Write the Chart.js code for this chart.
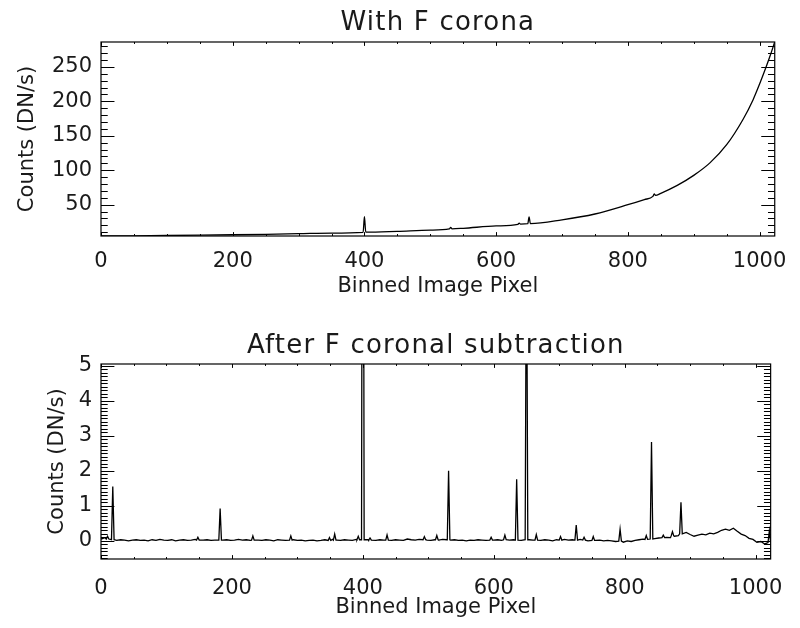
<!DOCTYPE html>
<html>
<head>
<meta charset="utf-8">
<script src="https://cdn.jsdelivr.net/npm/chart.js@4.4.0/dist/chart.umd.min.js"></script>
<style>
    html, body { margin: 0; padding: 0; background: #fff; }
    #wrap { position: relative; width: 800px; height: 628px; }
    canvas { position: absolute; left: 0; }
    #top-panel { top: 0; }
    #bottom-panel { top: 314px; }
</style>
</head>
<body>
<div id="wrap">
    <canvas id="top-panel" width="800" height="314"></canvas>
    <canvas id="bottom-panel" width="800" height="314"></canvas>
</div>
<script>
// tick labels
const xTickValues = [0, 200, 400, 600, 800, 1000];
const topYTickValues = [50, 100, 150, 200, 250];
const residYTickValues = [0, 1, 2, 3, 4, 5];

// top panel: spectrum with the F corona still in (binned pixel -> DN/s)
const topX = [0, 50, 100, 150, 200, 250, 300, 350, 398, 400,
    402, 450, 500, 529, 531, 533, 550, 600, 633, 635,
    637, 648, 650, 652, 700, 750, 800, 825, 838, 840,
    842, 850, 875, 900, 925, 950, 975, 990, 1000, 1010,
    1016, 1023];
const topY = [4.6, 4.9, 5.3, 5.8, 6.4, 7.1, 7.9, 8.8, 10.0, 32.5,
    10.1, 11.4, 13.2, 14.9, 16.9, 15.0, 15.8, 19.2, 21.6, 23.2,
    21.8, 22.4, 32.2, 22.6, 28.0, 36.5, 50.0, 57.5, 62.1, 65.6,
    63.5, 66.5, 78.0, 92.5, 111, 137, 174, 202, 225, 250,
    266, 286];

// bottom panel: residual continuum, one reading every 6 binned pixels
const residStep = 6;
const residBase = [
    0.05, 0.09, 0.04, 0.02, 0.01, 0.03, 0.02, 0.00, 0.02, 0.03,
    0.01, 0.02, 0.00, 0.03, 0.01, 0.04, 0.02, 0.01, 0.03, 0.00,
    0.02, 0.03, 0.01, 0.02, 0.04, 0.01, 0.02, 0.03, 0.01, 0.02,
    0.01, 0.02, 0.03, 0.01, 0.02, 0.04, 0.02, 0.03, 0.01, 0.03,
    0.02, 0.01, 0.03, 0.02, 0.00, 0.03, 0.02, 0.01, 0.02, 0.03,
    0.01, 0.02, 0.00, 0.01, 0.02, 0.00, 0.01, 0.03, 0.02, 0.04,
    0.02, 0.01, 0.03, 0.02, 0.01, 0.04, 0.03, 0.02, 0.03, 0.02,
    0.01, 0.03, 0.02, 0.04, 0.01, 0.03, 0.02, 0.01, 0.05, 0.03,
    0.02, 0.04, 0.03, 0.02, 0.01, 0.03, 0.02, 0.04, 0.03, 0.02,
    0.03, 0.01, 0.02, 0.00, 0.02, 0.01, 0.03, 0.02, 0.01, 0.03,
    0.02, 0.03, 0.01, 0.04, 0.02, 0.03, 0.02, 0.01, 0.04, 0.03,
    0.02, 0.04, 0.01, 0.03, 0.02, 0.00, 0.03, 0.01, 0.04, 0.02,
    0.03, 0.01, 0.04, 0.02, 0.00, 0.03, 0.01, 0.02, 0.00, 0.01,
    0.00, -0.02, 0.01, -0.04, 0.00, -0.02, 0.01, 0.03, 0.05, 0.04,
    0.05, 0.06, 0.08, 0.07, 0.10, 0.09, 0.13, 0.15, 0.21, 0.24,
    0.18, 0.13, 0.16, 0.19, 0.17, 0.22, 0.20, 0.24, 0.30, 0.33,
    0.30, 0.36, 0.27, 0.19, 0.15, 0.07, 0.04, -0.04, -0.02, -0.09,
    -0.05
];

// emission lines left after subtraction: position, peak, level at the foot
const lineX = [10, 18, 148, 182, 232, 290, 349, 357, 393, 400,
    411, 437, 494, 513, 531, 596, 617, 635, 650, 665,
    702, 726, 738, 752, 793, 833, 841, 859, 873, 886,
    1021];
const lineY = [0.13, 1.55, 0.10, 0.92, 0.14, 0.14, 0.09, 0.19, 0.13, 22.0,
    0.08, 0.17, 0.12, 0.15, 2.00, 0.10, 0.16, 1.76, 9.6, 0.18,
    0.12, 0.45, 0.10, 0.12, 0.33, 0.15, 2.82, 0.16, 0.26, 1.10,
    0.28];
const lineFoot = [0.05, 0.03, 0.02, 0.02, 0.02, 0.02, 0.01, 0.02, 0.03, 0.03,
    0.02, 0.02, 0.03, 0.03, 0.03, 0.02, 0.03, 0.02, 0.03, 0.02,
    0.02, 0.02, 0.02, 0.01, -0.01, 0.04, 0.05, 0.09, 0.14, 0.20,
    -0.05];

const INK = "#1a1a1a";
const FONT = "DejaVu Sans";

function topPoints() {
    return topX.map((x, i) => ({ x, y: topY[i] }));
}

function residualPoints() {
    const pts = [];
    residBase.forEach((y, i) => {
        const x = i * residStep;
        if (lineX.some((lx) => Math.abs(lx - x) < 2.5)) return;
        pts.push({ x, y });
    });
    lineX.forEach((lx, i) => {
        pts.push({ x: lx - 2, y: lineFoot[i] });
        pts.push({ x: lx, y: lineY[i] });
        pts.push({ x: lx + 2, y: lineFoot[i] });
    });
    return pts.sort((a, b) => a.x - b.x);
}

function stepsIn(min, max, step) {
    const out = [];
    for (let k = Math.ceil(min / step - 1e-9); k * step <= max + 1e-9; k++) {
        out.push(k * step);
    }
    return out;
}

const isMajor = (v, major) => Math.abs(v / major - Math.round(v / major)) < 1e-6;

// IDL-style box: frame, inward ticks on all four sides, title above
const idlBox = {
    id: "idlBox",
    afterDraw(chart, args, opts) {
        const { ctx, chartArea: a, scales } = chart;
        const xs = scales.x;
        const ys = scales.y;
        const xLen = a.height * 0.02;
        const yLen = a.width * 0.02;
        ctx.save();
        ctx.strokeStyle = "#000";
        ctx.lineWidth = 1.2;
        ctx.strokeRect(a.left, a.top, a.width, a.height);
        ctx.lineWidth = 1;
        ctx.beginPath();
        stepsIn(xs.min, xs.max, opts.xMinor).forEach((v) => {
            const len = isMajor(v, opts.xMajor) ? xLen : xLen / 2;
            const p = Math.round(xs.getPixelForValue(v)) + 0.5;
            ctx.moveTo(p, a.bottom);
            ctx.lineTo(p, a.bottom - len);
            ctx.moveTo(p, a.top);
            ctx.lineTo(p, a.top + len);
        });
        stepsIn(ys.min, ys.max, opts.yMinor).forEach((v) => {
            const len = isMajor(v, opts.yMajor) ? yLen : yLen / 2;
            const p = Math.round(ys.getPixelForValue(v)) + 0.5;
            ctx.moveTo(a.left, p);
            ctx.lineTo(a.left + len, p);
            ctx.moveTo(a.right, p);
            ctx.lineTo(a.right - len, p);
        });
        ctx.stroke();

        ctx.fillStyle = INK;
        ctx.font = `26px "${FONT}"`;
        ctx.textAlign = "center";
        ctx.textBaseline = "alphabetic";
        ctx.letterSpacing = "1.2px";
        ctx.fillText(opts.text, (a.left + a.right) / 2, opts.baseline);
        ctx.restore();
    },
};

const fixedTicks = (values) => (scale) => {
    scale.ticks = values.map((value) => ({ value }));
};

function makePanel(canvasId, points, cfg) {
    const ctx = document.getElementById(canvasId).getContext("2d");
    return new Chart(ctx, {
        type: "line",
        data: {
            datasets: [
                {
                    data: points,
                    borderColor: "#000",
                    borderWidth: 1.3,
                    pointRadius: 0,
                    cubicInterpolationMode: cfg.smooth ? "monotone" : "default",
                    tension: 0,
                },
            ],
        },
        options: {
            responsive: false,
            animation: false,
            devicePixelRatio: 1,
            layout: { padding: { top: cfg.areaTop, right: 13, left: 0, bottom: 0 } },
            plugins: {
                legend: { display: false },
                tooltip: { enabled: false },
                idlBox: {
                    text: cfg.title,
                    baseline: cfg.titleBaseline,
                    xMajor: 200,
                    xMinor: 50,
                    yMajor: cfg.yMajor,
                    yMinor: cfg.yMinor,
                },
            },
            scales: {
                x: {
                    type: "linear",
                    min: 0,
                    max: 1023,
                    afterBuildTicks: fixedTicks(xTickValues),
                    afterFit: (s) => { s.height = cfg.xAxisHeight; },
                    grid: { display: false, drawTicks: false },
                    border: { display: false },
                    ticks: {
                        autoSkip: false,
                        maxRotation: 0,
                        padding: cfg.xTickPad,
                        color: INK,
                        font: { family: FONT, size: 21 },
                        callback: (v) => String(v),
                    },
                    title: {
                        display: true,
                        text: "Binned Image Pixel",
                        color: INK,
                        font: { family: FONT, size: 21 },
                        padding: { top: 0, bottom: cfg.xTitlePad },
                    },
                },
                y: {
                    type: "linear",
                    min: cfg.yMin,
                    max: cfg.yMax,
                    afterBuildTicks: fixedTicks(cfg.yTicks),
                    afterFit: (s) => { s.width = 101; },
                    grid: { display: false, drawTicks: false },
                    border: { display: false },
                    ticks: {
                        autoSkip: false,
                        padding: 9,
                        color: INK,
                        font: { family: FONT, size: 21 },
                        callback: (v) => String(v),
                    },
                    title: {
                        display: true,
                        text: "Counts (DN/s)",
                        color: INK,
                        font: { family: FONT, size: 21 },
                        padding: { top: cfg.yTitlePad, bottom: 0 },
                    },
                },
            },
        },
        plugins: [idlBox],
    });
}

makePanel("top-panel", topPoints(), {
    title: "With F corona",
    titleBaseline: 30,
    areaTop: 42,
    xAxisHeight: 78,
    xTickPad: 13.4,
    xTitlePad: 14.4,
    yTitlePad: 15.4,
    yMin: 4.6,
    yMax: 286,
    yTicks: topYTickValues,
    yMajor: 50,
    yMinor: 10,
    smooth: true,
});

makePanel("bottom-panel", residualPoints(), {
    title: "After F coronal subtraction",
    titleBaseline: 39,
    areaTop: 50,
    xAxisHeight: 69,
    xTickPad: 17.4,
    xTitlePad: 7.4,
    yTitlePad: 45.4,
    yMin: -0.52,
    yMax: 5.05,
    yTicks: residYTickValues,
    yMajor: 1,
    yMinor: 0.1,
    smooth: false,
});
</script>
</body>
</html>
